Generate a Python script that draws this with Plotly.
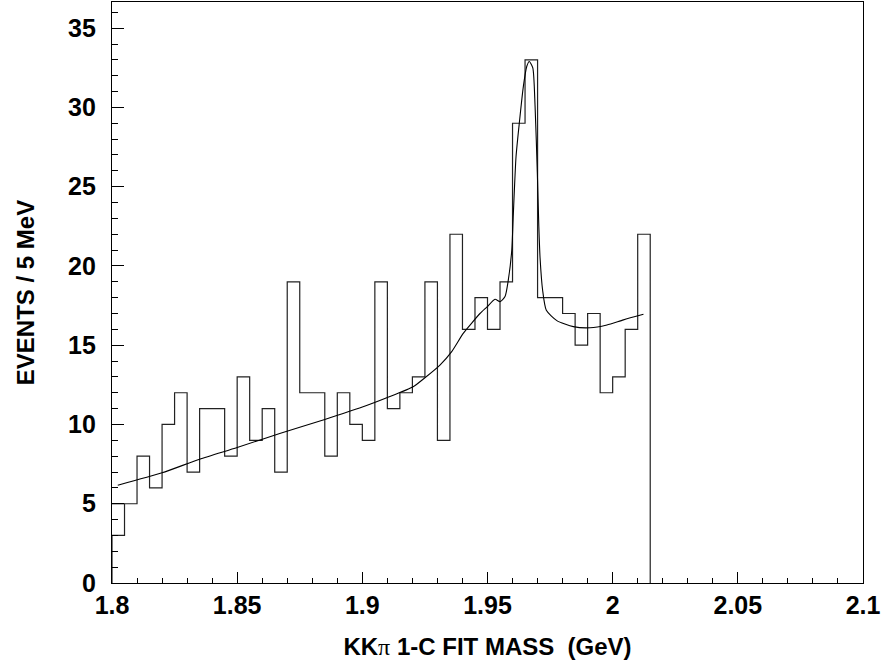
import numpy as np
import plotly.graph_objects as go

# Histogram: 5 MeV bins starting at 1.800 GeV
bin_start = 1.800
bin_width = 0.005
counts = [3, 5, 8, 6, 10, 12, 7, 11, 11, 8, 13, 9, 11, 7, 19, 12, 12, 8, 12, 10,
          9, 19, 11, 12, 13, 19, 9, 22, 16, 18, 16, 19, 29, 33, 18, 18, 17, 15, 17, 12,
          13, 16, 22]

# Fit curve
fit_x = [1.8023, 1.82, 1.835, 1.85, 1.867, 1.885, 1.90, 1.91, 1.9203, 1.925, 1.931,
         1.9357, 1.9403, 1.9437, 1.947, 1.9497, 1.953, 1.955, 1.957, 1.9583, 1.9597,
         1.9603, 1.9614, 1.9627, 1.9643, 1.9657, 1.9667, 1.9681, 1.969, 1.9699, 1.9705,
         1.971, 1.972, 1.9735, 1.9777, 1.9843, 1.991, 1.9977, 2.0043, 2.0123]
fit_y = [6.17, 6.95, 7.81, 8.55, 9.43, 10.32, 11.1, 11.7, 12.38, 12.95, 13.75,
         14.6, 15.75, 16.4, 17.0, 17.4, 17.9, 17.75, 18.07, 19.1, 21.0,
         23.2, 26.9, 29.0, 31.3, 32.6, 32.9, 32.5, 30.1, 25.9, 22.5,
         20.5, 18.5, 17.2, 16.55, 16.17, 16.1, 16.28, 16.6, 16.95]

x_ticks = [1.8, 1.85, 1.9, 1.95, 2.0, 2.05, 2.1]
x_ticklabels = ["1.8", "1.85", "1.9", "1.95", "2", "2.05", "2.1"]
y_ticks = [0, 5, 10, 15, 20, 25, 30, 35]

edges = bin_start + bin_width * np.arange(len(counts) + 1)
hx, hy = [edges[0]], [0]
for i, c in enumerate(counts):
    hx += [edges[i], edges[i + 1]]
    hy += [c, c]
hx.append(edges[-1])
hy.append(0)

fig = go.Figure()
fig.add_trace(go.Scatter(x=hx, y=hy, mode="lines",
                         line=dict(color="#222222", width=1.2), hoverinfo="skip"))
# extra level line across first bin (as in the original drawing)
fig.add_trace(go.Scatter(x=[edges[0], edges[1]], y=[counts[1], counts[1]], mode="lines",
                         line=dict(color="#222222", width=1.2), hoverinfo="skip"))
fig.add_trace(go.Scatter(x=fit_x, y=fit_y, mode="lines",
                         line=dict(color="black", width=1.1, shape="spline", smoothing=0.6),
                         hoverinfo="skip"))

font_family = "Liberation Sans, Arial, sans-serif"
x_title = ('KK<span style="font-family:Liberation Serif;font-weight:normal">\u03c0</span>'
           ' 1-C FIT MASS  (GeV)')
fig.update_layout(
    width=881, height=664,
    margin=dict(l=112, r=18, t=2, b=81),
    paper_bgcolor="white", plot_bgcolor="white",
    showlegend=False,
    xaxis=dict(
        range=[1.8, 2.1], tickvals=x_ticks, ticktext=x_ticklabels,
        ticks="inside", ticklen=11, tickwidth=1, tickcolor="black",
        minor=dict(dtick=0.01, tick0=1.8, ticks="inside", ticklen=5, tickwidth=1, tickcolor="black"),
        showline=True, linecolor="black", linewidth=1.2, mirror=True,
        showgrid=False, zeroline=False,
        tickfont=dict(family=font_family, size=25, color="black", weight="bold"),
        title=dict(text=x_title,
                   font=dict(family=font_family, size=24, color="black", weight="bold"),
                   standoff=20),
    ),
    yaxis=dict(
        range=[0, 36.65], tickvals=y_ticks,
        ticks="inside", ticklen=12, tickwidth=1, tickcolor="black",
        minor=dict(dtick=1, tick0=0, ticks="inside", ticklen=6, tickwidth=1, tickcolor="black"),
        showline=True, linecolor="black", linewidth=1.2, mirror=True,
        showgrid=False, zeroline=False,
        ticklabelstandoff=10,
        tickfont=dict(family=font_family, size=25, color="black", weight="bold"),
        title=dict(text="EVENTS / 5 MeV",
                   font=dict(family=font_family, size=24, color="black", weight="bold"),
                   standoff=26),
    ),
)

fig.write_html("out.html")
